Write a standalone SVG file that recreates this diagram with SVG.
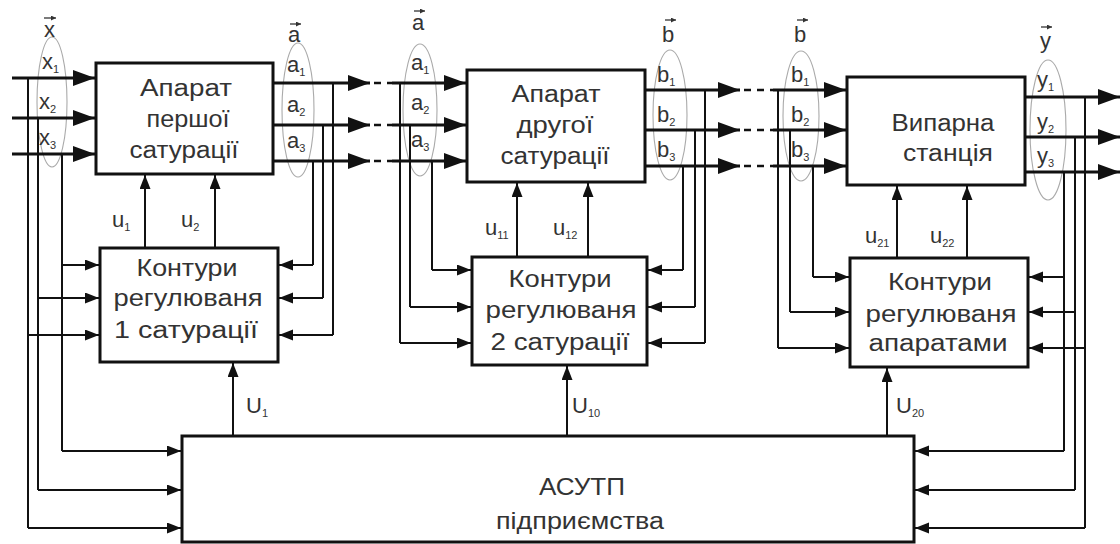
<svg xmlns="http://www.w3.org/2000/svg" width="1120" height="544" viewBox="0 0 1120 544">
<style>
.box{fill:#fff;stroke:#111;stroke-width:3}
.main{stroke:#111;stroke-width:3;fill:none}
.thin{stroke:#111;stroke-width:2;fill:none}
.gap{stroke:#111;stroke-width:2.5;fill:none;stroke-dasharray:7 6}
.ell{fill:none;stroke:#aaa;stroke-width:1.1}
.t{font-family:"Liberation Sans",Arial,sans-serif;font-size:23px;fill:#333;text-anchor:middle}
.l{font-family:"Liberation Sans",Arial,sans-serif;font-size:22px;fill:#333}
.s{font-size:11px}
.va{stroke:#333;stroke-width:1.3;fill:none}
</style>
<defs>
<marker id="big" markerUnits="userSpaceOnUse" markerWidth="24" markerHeight="18" refX="22" refY="8" orient="auto"><path d="M0,0 L22,8 L0,16 z" fill="#111"/></marker>
<marker id="sm" markerUnits="userSpaceOnUse" markerWidth="16" markerHeight="12" refX="14" refY="5.5" orient="auto"><path d="M0,0 L14,5.5 L0,11 z" fill="#111"/></marker>
<marker id="va" markerUnits="userSpaceOnUse" markerWidth="6" markerHeight="6" refX="5" refY="2.5" orient="auto"><path d="M0,0 L5,2.5 L0,5 z" fill="#333"/></marker>
</defs>
<g id="ellipses">
<ellipse class="ell" cx="52" cy="102" rx="15" ry="65"/>
<ellipse class="ell" cx="298" cy="110" rx="16" ry="67"/>
<ellipse class="ell" cx="420" cy="110" rx="17" ry="66"/>
<ellipse class="ell" cx="670" cy="115" rx="17" ry="65"/>
<ellipse class="ell" cx="801" cy="116" rx="18" ry="65"/>
<ellipse class="ell" cx="1048" cy="130" rx="18" ry="70"/>
</g>
<g id="connectors">
<path class="main" marker-end="url(#big)" d="M12,78 H95"/>
<path class="main" marker-end="url(#big)" d="M12,118 H95"/>
<path class="main" marker-end="url(#big)" d="M12,154 H95"/>
<path class="thin" d="M28,78 V528"/>
<path class="thin" d="M38,118 V490"/>
<path class="thin" d="M62,154 V451"/>
<path class="thin" marker-end="url(#sm)" d="M62,265 H99"/>
<path class="thin" marker-end="url(#sm)" d="M38,298 H99"/>
<path class="thin" marker-end="url(#sm)" d="M28,335 H99"/>
<path class="thin" marker-end="url(#sm)" d="M62,451 H181"/>
<path class="thin" marker-end="url(#sm)" d="M38,490 H181"/>
<path class="thin" marker-end="url(#sm)" d="M28,528 H181"/>
<path class="main" marker-end="url(#big)" d="M273,83 H370"/>
<path class="main" marker-end="url(#big)" d="M273,125 H370"/>
<path class="main" marker-end="url(#big)" d="M273,161 H370"/>
<path class="gap" d="M374,83 H392 M374,125 H392 M374,161 H392"/>
<path class="main" marker-end="url(#big)" d="M392,83 H466"/>
<path class="main" marker-end="url(#big)" d="M392,125 H466"/>
<path class="main" marker-end="url(#big)" d="M392,161 H466"/>
<path class="thin" d="M333,83 V335"/>
<path class="thin" d="M323,125 V298"/>
<path class="thin" d="M313,161 V265"/>
<path class="thin" marker-end="url(#sm)" d="M313,265 H279"/>
<path class="thin" marker-end="url(#sm)" d="M323,298 H279"/>
<path class="thin" marker-end="url(#sm)" d="M333,335 H279"/>
<path class="thin" marker-end="url(#sm)" d="M145,248 V175"/>
<path class="thin" marker-end="url(#sm)" d="M215,248 V175"/>
<path class="thin" marker-end="url(#sm)" d="M233,436 V363"/>
<path class="thin" d="M400,83 V343"/>
<path class="thin" d="M410,125 V307"/>
<path class="thin" d="M432,161 V270"/>
<path class="thin" marker-end="url(#sm)" d="M432,270 H471"/>
<path class="thin" marker-end="url(#sm)" d="M410,307 H471"/>
<path class="thin" marker-end="url(#sm)" d="M400,343 H471"/>
<path class="main" marker-end="url(#big)" d="M645,90 H740"/>
<path class="main" marker-end="url(#big)" d="M645,130 H740"/>
<path class="main" marker-end="url(#big)" d="M645,166 H740"/>
<path class="gap" d="M744,90 H773 M744,130 H773 M744,166 H773"/>
<path class="main" marker-end="url(#big)" d="M773,90 H846"/>
<path class="main" marker-end="url(#big)" d="M773,130 H846"/>
<path class="main" marker-end="url(#big)" d="M773,166 H846"/>
<path class="thin" d="M705,90 V343"/>
<path class="thin" d="M695,130 V307"/>
<path class="thin" d="M683,166 V270"/>
<path class="thin" marker-end="url(#sm)" d="M683,270 H648"/>
<path class="thin" marker-end="url(#sm)" d="M695,307 H648"/>
<path class="thin" marker-end="url(#sm)" d="M705,343 H648"/>
<path class="thin" marker-end="url(#sm)" d="M517,257 V183"/>
<path class="thin" marker-end="url(#sm)" d="M588,257 V183"/>
<path class="thin" marker-end="url(#sm)" d="M567,436 V366"/>
<path class="thin" d="M778,90 V348"/>
<path class="thin" d="M790,130 V312"/>
<path class="thin" d="M813,166 V277"/>
<path class="thin" marker-end="url(#sm)" d="M813,277 H849"/>
<path class="thin" marker-end="url(#sm)" d="M790,312 H849"/>
<path class="thin" marker-end="url(#sm)" d="M778,348 H849"/>
<path class="main" marker-end="url(#big)" d="M1025,97 H1120"/>
<path class="main" marker-end="url(#big)" d="M1025,137 H1120"/>
<path class="main" marker-end="url(#big)" d="M1025,172 H1120"/>
<path class="thin" d="M1085,97 V528"/>
<path class="thin" d="M1075,137 V490"/>
<path class="thin" d="M1064,172 V451"/>
<path class="thin" marker-end="url(#sm)" d="M1064,277 H1029"/>
<path class="thin" marker-end="url(#sm)" d="M1075,312 H1029"/>
<path class="thin" marker-end="url(#sm)" d="M1085,348 H1029"/>
<path class="thin" marker-end="url(#sm)" d="M1064,451 H915"/>
<path class="thin" marker-end="url(#sm)" d="M1075,490 H915"/>
<path class="thin" marker-end="url(#sm)" d="M1085,528 H915"/>
<path class="thin" marker-end="url(#sm)" d="M897,258 V186"/>
<path class="thin" marker-end="url(#sm)" d="M967,258 V186"/>
<path class="thin" marker-end="url(#sm)" d="M887,436 V368"/>
</g>
<g id="app1">
<rect class="box" x="96" y="63" width="177" height="111"/>
<text class="t" x="186" y="96" textLength="92" lengthAdjust="spacingAndGlyphs">Апарат</text>
<text class="t" x="188" y="127" textLength="83" lengthAdjust="spacingAndGlyphs">першої</text>
<text class="t" x="184" y="158" textLength="109" lengthAdjust="spacingAndGlyphs">сатурації</text>
</g>
<g id="app2">
<rect class="box" x="467" y="70" width="178" height="112"/>
<text class="t" x="556" y="102" textLength="89" lengthAdjust="spacingAndGlyphs">Апарат</text>
<text class="t" x="555" y="133" textLength="77" lengthAdjust="spacingAndGlyphs">другої</text>
<text class="t" x="555" y="164" textLength="109" lengthAdjust="spacingAndGlyphs">сатурації</text>
</g>
<g id="app3">
<rect class="box" x="847" y="77" width="178" height="108"/>
<text class="t" x="943" y="131" textLength="103" lengthAdjust="spacingAndGlyphs">Випарна</text>
<text class="t" x="948" y="161" textLength="90" lengthAdjust="spacingAndGlyphs">станція</text>
</g>
<g id="ctl1">
<rect class="box" x="100" y="248" width="178" height="114"/>
<text class="t" x="187" y="276" textLength="101" lengthAdjust="spacingAndGlyphs">Контури</text>
<text class="t" x="188" y="306" textLength="149" lengthAdjust="spacingAndGlyphs">регулюваня</text>
<text class="t" x="186" y="338" textLength="144" lengthAdjust="spacingAndGlyphs">1 сатурації</text>
</g>
<g id="ctl2">
<rect class="box" x="472" y="257" width="175" height="108"/>
<text class="t" x="560" y="287" textLength="103" lengthAdjust="spacingAndGlyphs">Контури</text>
<text class="t" x="561" y="318" textLength="151" lengthAdjust="spacingAndGlyphs">регулюваня</text>
<text class="t" x="560" y="350" textLength="139" lengthAdjust="spacingAndGlyphs">2 сатурації</text>
</g>
<g id="ctl3">
<rect class="box" x="850" y="258" width="178" height="109"/>
<text class="t" x="940" y="290" textLength="104" lengthAdjust="spacingAndGlyphs">Контури</text>
<text class="t" x="941" y="322" textLength="151" lengthAdjust="spacingAndGlyphs">регулюваня</text>
<text class="t" x="938" y="351" textLength="139" lengthAdjust="spacingAndGlyphs">апаратами</text>
</g>
<g id="asutp">
<rect class="box" x="182" y="436" width="732" height="106"/>
<text class="t" x="582" y="495" textLength="86" lengthAdjust="spacingAndGlyphs">АСУТП</text>
<text class="t" x="580" y="529" textLength="168" lengthAdjust="spacingAndGlyphs">підприємства</text>
</g>
<g id="labels">
<text class="l" x="44" y="37">x</text>
<path class="va" marker-end="url(#va)" d="M44,18 H56"/>
<text class="l" x="42" y="69">x<tspan class="s" dy="4">1</tspan></text>
<text class="l" x="39" y="109">x<tspan class="s" dy="4">2</tspan></text>
<text class="l" x="39" y="145">x<tspan class="s" dy="4">3</tspan></text>
<text class="l" x="288" y="42">a</text>
<path class="va" marker-end="url(#va)" d="M290,24 H301"/>
<text class="l" x="287" y="72">a<tspan class="s" dy="4">1</tspan></text>
<text class="l" x="287" y="112">a<tspan class="s" dy="4">2</tspan></text>
<text class="l" x="287" y="148">a<tspan class="s" dy="4">3</tspan></text>
<text class="l" x="412" y="30">a</text>
<path class="va" marker-end="url(#va)" d="M414,11 H425"/>
<text class="l" x="411" y="70">a<tspan class="s" dy="4">1</tspan></text>
<text class="l" x="411" y="110">a<tspan class="s" dy="4">2</tspan></text>
<text class="l" x="411" y="147">a<tspan class="s" dy="4">3</tspan></text>
<text class="l" x="662" y="42">b</text>
<path class="va" marker-end="url(#va)" d="M665,20 H676"/>
<text class="l" x="657" y="82">b<tspan class="s" dy="4">1</tspan></text>
<text class="l" x="657" y="122">b<tspan class="s" dy="4">2</tspan></text>
<text class="l" x="657" y="157">b<tspan class="s" dy="4">3</tspan></text>
<text class="l" x="794" y="42">b</text>
<path class="va" marker-end="url(#va)" d="M797,20 H808"/>
<text class="l" x="791" y="82">b<tspan class="s" dy="4">1</tspan></text>
<text class="l" x="791" y="122">b<tspan class="s" dy="4">2</tspan></text>
<text class="l" x="791" y="157">b<tspan class="s" dy="4">3</tspan></text>
<text class="l" x="1040" y="48">y</text>
<path class="va" marker-end="url(#va)" d="M1041,27 H1052"/>
<text class="l" x="1037" y="87">y<tspan class="s" dy="4">1</tspan></text>
<text class="l" x="1037" y="129">y<tspan class="s" dy="4">2</tspan></text>
<text class="l" x="1037" y="163">y<tspan class="s" dy="4">3</tspan></text>
<text class="l" x="112" y="227">u<tspan class="s" dy="4">1</tspan></text>
<text class="l" x="181" y="227">u<tspan class="s" dy="4">2</tspan></text>
<text class="l" x="246" y="413">U<tspan class="s" dy="4">1</tspan></text>
<text class="l" x="485" y="235">u<tspan class="s" dy="4">11</tspan></text>
<text class="l" x="553" y="235">u<tspan class="s" dy="4">12</tspan></text>
<text class="l" x="572" y="413">U<tspan class="s" dy="4">10</tspan></text>
<text class="l" x="865" y="243">u<tspan class="s" dy="4">21</tspan></text>
<text class="l" x="930" y="243">u<tspan class="s" dy="4">22</tspan></text>
<text class="l" x="896" y="413">U<tspan class="s" dy="4">20</tspan></text>
</g>
</svg>
